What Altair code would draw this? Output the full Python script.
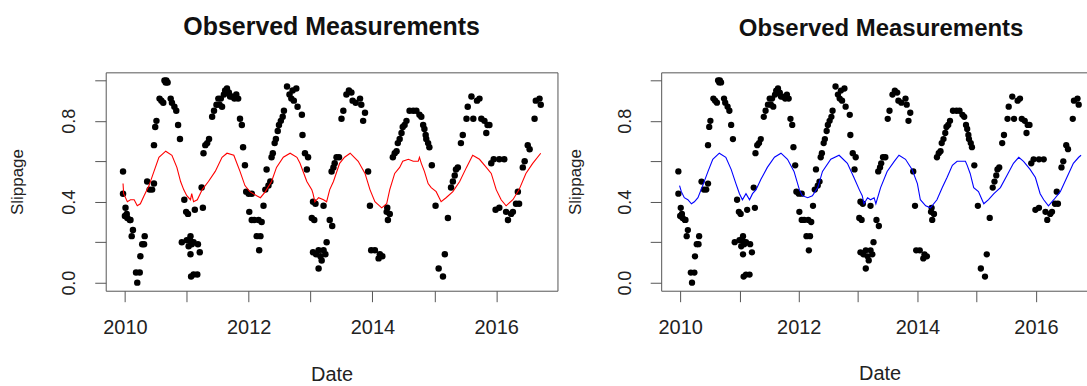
import altair as alt
import pandas as pd

# ---------------- data ----------------
pt_year = [
    2009.97, 2009.97, 2010.01, 2010.00, 2010.04, 2010.08, 2010.09, 2010.03, 2010.13, 2010.11,
    2010.32, 2010.31, 2010.28, 2010.25, 2010.18, 2010.24, 2010.20, 2010.36, 2010.47, 2010.40,
    2010.44, 2010.47, 2010.49, 2010.51, 2010.56, 2010.59, 2010.62, 2010.64, 2010.67, 2010.69,
    2010.66, 2010.74, 2010.76, 2010.80, 2010.83, 2010.86, 2010.89, 2010.96, 2010.99, 2011.02,
    2010.92, 2011.00, 2011.05, 2011.06, 2011.08, 2011.03, 2011.11, 2011.18, 2011.06, 2011.21,
    2011.07, 2011.11, 2011.17, 2011.13, 2011.26, 2011.24, 2011.27, 2011.30, 2011.33, 2011.36,
    2011.41, 2011.44, 2011.48, 2011.51, 2011.55, 2011.60, 2011.62, 2011.65, 2011.68, 2011.70,
    2011.73, 2011.77, 2011.80, 2011.83, 2011.53, 2011.57, 2011.86, 2011.89, 2011.91, 2011.94,
    2011.96, 2012.00, 2012.05, 2012.01, 2012.05, 2012.09, 2012.16, 2012.21, 2012.19, 2012.13,
    2012.17, 2012.24, 2012.27, 2012.32, 2012.35, 2012.29, 2012.37, 2012.39, 2012.42, 2012.44,
    2012.47, 2012.49, 2012.52, 2012.55, 2012.57, 2012.62, 2012.66, 2012.69, 2012.71, 2012.73,
    2012.77, 2012.79, 2012.86, 2012.87, 2012.91, 2012.94, 2012.96, 2013.04, 2013.08, 2013.02,
    2013.06, 2013.04, 2013.09, 2013.13, 2013.16, 2013.21, 2013.24, 2013.18, 2013.13, 2013.21,
    2013.26, 2013.31, 2013.35, 2013.34, 2013.37, 2013.39, 2013.42, 2013.46, 2013.50, 2013.53,
    2013.58, 2013.62, 2013.66, 2013.68, 2013.73, 2013.80, 2013.82, 2013.85, 2013.88, 2013.93,
    2013.96, 2013.98, 2014.04, 2014.12, 2014.16, 2014.10, 2014.23, 2014.25, 2014.28, 2014.24,
    2014.33, 2014.36, 2014.39, 2014.41, 2014.44, 2014.47, 2014.49, 2014.52, 2014.55, 2014.60,
    2014.66, 2014.71, 2014.76, 2014.79, 2014.82, 2014.84, 2014.86, 2014.87, 2014.90, 2014.92,
    2014.96, 2015.02, 2015.07, 2015.14, 2015.17, 2015.22, 2015.27, 2015.30, 2015.33, 2015.35,
    2015.38, 2015.43, 2015.46, 2015.52, 2015.54, 2015.60, 2015.63, 2015.69, 2015.73, 2015.76,
    2015.81, 2015.84, 2015.86, 2015.89, 2015.92, 2015.96, 2016.05, 2016.13, 2015.99, 2016.05,
    2016.16, 2016.19, 2016.24, 2016.27, 2016.32, 2016.37, 2016.35, 2016.43, 2016.46, 2016.51,
    2016.54, 2016.62, 2016.64, 2016.70, 2016.72,
]
pt_value = [
    0.55, 0.44, 0.37, 0.33, 0.32, 0.31, 0.31, 0.34, 0.26, 0.23,
    0.23, 0.19, 0.19, 0.13, 0.05, 0.05, 0.00, 0.50, 0.49, 0.46,
    0.46, 0.68, 0.77, 0.80, 0.91, 0.90, 0.89, 1.00, 1.00, 0.99,
    0.99, 0.91, 0.89, 0.87, 0.85, 0.78, 0.71, 0.41, 0.35, 0.34,
    0.20, 0.21, 0.21, 0.23, 0.19, 0.18, 0.20, 0.19, 0.14, 0.15,
    0.03, 0.04, 0.04, 0.36, 0.37, 0.47, 0.64, 0.68, 0.69, 0.71,
    0.82, 0.85, 0.88, 0.91, 0.91, 0.93, 0.95, 0.96, 0.94, 0.92,
    0.92, 0.91, 0.93, 0.91, 0.88, 0.87, 0.81, 0.78, 0.67, 0.58,
    0.45, 0.44, 0.44, 0.35, 0.31, 0.31, 0.31, 0.30, 0.23, 0.23,
    0.16, 0.38, 0.46, 0.48, 0.50, 0.56, 0.62, 0.64, 0.69, 0.71,
    0.75, 0.78, 0.80, 0.82, 0.85, 0.97, 0.93, 0.91, 0.95, 0.90,
    0.96, 0.87, 0.83, 0.73, 0.64, 0.56, 0.62, 0.40, 0.39, 0.32,
    0.31, 0.15, 0.14, 0.16, 0.13, 0.16, 0.14, 0.11, 0.07, 0.38,
    0.20, 0.31, 0.28, 0.55, 0.57, 0.59, 0.62, 0.62, 0.81, 0.85,
    0.93, 0.95, 0.94, 0.90, 0.89, 0.91, 0.88, 0.80, 0.84, 0.55,
    0.38, 0.16, 0.16, 0.14, 0.13, 0.12, 0.35, 0.31, 0.34, 0.37,
    0.62, 0.64, 0.65, 0.69, 0.71, 0.74, 0.77, 0.78, 0.80, 0.85,
    0.85, 0.85, 0.83, 0.82, 0.78, 0.76, 0.73, 0.71, 0.69, 0.67,
    0.58, 0.38, 0.07, 0.03, 0.14, 0.32, 0.47, 0.50, 0.53, 0.56,
    0.57, 0.69, 0.73, 0.81, 0.87, 0.92, 0.81, 0.90, 0.91, 0.81,
    0.80, 0.74, 0.78, 0.78, 0.59, 0.61, 0.61, 0.61, 0.36, 0.37,
    0.35, 0.31, 0.34, 0.35, 0.39, 0.39, 0.45, 0.57, 0.60, 0.68,
    0.66, 0.81, 0.90, 0.91, 0.88,
]

red_year = [
    2009.97, 2009.98, 2010.04, 2010.09, 2010.15, 2010.20, 2010.25, 2010.31, 2010.39, 2010.47,
    2010.55, 2010.66, 2010.76, 2010.84, 2010.90, 2010.95, 2011.00, 2011.06, 2011.08, 2011.11,
    2011.17, 2011.25, 2011.35, 2011.46, 2011.57, 2011.65, 2011.76, 2011.86, 2011.94, 2012.02,
    2012.13, 2012.19, 2012.27, 2012.37, 2012.45, 2012.56, 2012.67, 2012.78, 2012.83, 2012.94,
    2013.02, 2013.04, 2013.07, 2013.13, 2013.21, 2013.26, 2013.31, 2013.37, 2013.47, 2013.55,
    2013.64, 2013.77, 2013.88, 2013.96, 2014.04, 2014.15, 2014.23, 2014.28, 2014.36, 2014.44,
    2014.49, 2014.58, 2014.66, 2014.74, 2014.76, 2014.79, 2014.84, 2014.90, 2014.95, 2015.03,
    2015.11, 2015.19, 2015.30, 2015.41, 2015.52, 2015.62, 2015.73, 2015.84, 2015.92, 2016.00,
    2016.08, 2016.16, 2016.27, 2016.37, 2016.48, 2016.59, 2016.72,
]
red_value = [
    0.49, 0.44, 0.40, 0.41, 0.41, 0.38, 0.39, 0.43, 0.48, 0.55,
    0.62, 0.65, 0.63, 0.57, 0.50, 0.46, 0.43, 0.41, 0.44, 0.40,
    0.41, 0.46, 0.50, 0.55, 0.62, 0.64, 0.63, 0.55, 0.48, 0.45,
    0.43, 0.42, 0.45, 0.50, 0.57, 0.62, 0.64, 0.62, 0.59, 0.50,
    0.46, 0.44, 0.40, 0.42, 0.41, 0.40, 0.46, 0.50, 0.59, 0.62,
    0.64, 0.60, 0.54, 0.46, 0.40, 0.37, 0.39, 0.46, 0.54, 0.57,
    0.60, 0.61, 0.60, 0.60, 0.62, 0.59, 0.55, 0.49, 0.47, 0.45,
    0.40, 0.42, 0.45, 0.50, 0.57, 0.63, 0.61, 0.57, 0.54, 0.46,
    0.41, 0.38, 0.41, 0.46, 0.54, 0.59, 0.64,
]

blue_year = [
    2009.99, 2010.02, 2010.07, 2010.13, 2010.19, 2010.24, 2010.30, 2010.38, 2010.47, 2010.55,
    2010.66, 2010.77, 2010.86, 2010.94, 2011.00, 2011.05, 2011.11, 2011.17, 2011.22, 2011.28,
    2011.36, 2011.47, 2011.59, 2011.70, 2011.81, 2011.92, 2012.01, 2012.06, 2012.15, 2012.23,
    2012.32, 2012.40, 2012.54, 2012.68, 2012.82, 2012.93, 2013.02, 2013.07, 2013.10, 2013.16,
    2013.21, 2013.27, 2013.30, 2013.38, 2013.49, 2013.61, 2013.69, 2013.80, 2013.91, 2014.00,
    2014.05, 2014.14, 2014.22, 2014.33, 2014.42, 2014.50, 2014.59, 2014.67, 2014.75, 2014.81,
    2014.84, 2014.89, 2014.95, 2015.03, 2015.09, 2015.12, 2015.20, 2015.29, 2015.40, 2015.51,
    2015.62, 2015.71, 2015.79, 2015.90, 2015.99, 2016.07, 2016.13, 2016.21, 2016.30, 2016.41,
    2016.52, 2016.63, 2016.72, 2016.76,
]
blue_value = [
    0.48, 0.45, 0.42, 0.41, 0.39, 0.40, 0.42, 0.48, 0.55, 0.61,
    0.64, 0.62, 0.56, 0.49, 0.44, 0.41, 0.44, 0.41, 0.44, 0.46,
    0.51, 0.57, 0.62, 0.64, 0.61, 0.55, 0.46, 0.43, 0.42, 0.43,
    0.47, 0.55, 0.61, 0.63, 0.59, 0.52, 0.46, 0.43, 0.39, 0.42,
    0.41, 0.42, 0.39, 0.47, 0.55, 0.60, 0.63, 0.61, 0.56, 0.49,
    0.41, 0.38, 0.37, 0.41, 0.47, 0.52, 0.58, 0.60, 0.60, 0.60,
    0.58, 0.54, 0.47, 0.45, 0.41, 0.39, 0.41, 0.44, 0.47, 0.53,
    0.59, 0.62, 0.60, 0.56, 0.52, 0.44, 0.41, 0.38, 0.41, 0.45,
    0.52, 0.59, 0.62, 0.63,
]

x_ticks = [2010, 2011, 2012, 2013, 2014, 2015, 2016]
y_ticks = [0.0, 0.2, 0.4, 0.6, 0.8, 1.0]
chart_title = "Observed Measurements"
x_title = "Date"
y_title = "Slippage"

pts_df = pd.DataFrame({"Date": pt_year, "Slippage": pt_value})
red_df = pd.DataFrame({"Date": red_year, "Slippage": red_value})
blue_df = pd.DataFrame({"Date": blue_year, "Slippage": blue_value})

FONT = "Liberation Sans"
AXC = "#555555"
TXT = "#222222"

Y_LABELS = ("(abs(datum.value) < 0.001 || abs(datum.value - 0.4) < 0.001 || "
            "abs(datum.value - 0.8) < 0.001) ? format(datum.value, '.1f') : ''")
X_LABELS = "(round(datum.value) % 2 == 0) ? format(datum.value, 'd') : ''"


def y_enc(title_x, show_domain):
    return alt.Y(
        "Slippage:Q",
        scale=alt.Scale(domain=[-0.04, 1.04], nice=False, zero=False),
        axis=alt.Axis(
            values=y_ticks, labelExpr=Y_LABELS, labelAngle=270, labelAlign="center",
            labelBaseline="alphabetic", labelFontSize=18, labelPadding=20, tickSize=11,
            domain=show_domain, grid=False, title=y_title, titleAngle=270,
            titleFontSize=17, titleFontWeight="normal", titleX=title_x,
            titleBaseline="alphabetic",
        ),
    )


def x_enc(domain, title_x, title_y, show_domain):
    return alt.X(
        "Date:Q",
        scale=alt.Scale(domain=domain, nice=False, zero=False),
        axis=alt.Axis(
            values=x_ticks, labelExpr=X_LABELS, labelFontSize=20, labelBaseline="alphabetic",
            labelPadding=32, tickSize=11, domain=show_domain, grid=False, title=x_title,
            titleFontSize=20, titleFontWeight="normal", titleBaseline="alphabetic",
            titleX=title_x, titleY=title_y,
        ),
    )


# ---------------- left panel ----------------
L_W, L_H = 453, 219
left_x = x_enc([2009.69, 2016.99], L_W / 2, 90, False)
left_pts = alt.Chart(pts_df).mark_circle(size=42, color="black", opacity=1).encode(
    x=left_x, y=y_enc(-83, False))
left_line = alt.Chart(red_df).mark_line(color="#ff0000", strokeWidth=1.1).encode(
    x=left_x, y=y_enc(-83, False))
left = alt.layer(left_pts, left_line).properties(
    width=L_W, height=L_H,
    view=alt.ViewBackground(stroke=AXC, strokeWidth=1),
    title=alt.Title(chart_title, font=FONT, fontSize=25, fontWeight="bold", anchor="middle",
                    frame="group", offset=12, baseline="alphabetic", color="#111111"),
)

# ---------------- right panel (cut off at the right edge) ----------------
R_W, R_H = 427, 219
right_x = x_enc([2009.68, 2016.86], 219, 89, True)
right_pts = alt.Chart(pts_df).mark_circle(size=40, color="black", opacity=1).encode(
    x=right_x, y=y_enc(-81, True))
right_line = alt.Chart(blue_df).mark_line(color="#0000ff", strokeWidth=1.1).encode(
    x=alt.X("Date:Q", scale=alt.Scale(domain=[2009.68, 2016.86], nice=False, zero=False),
            axis=alt.Axis(orient="top", labels=False, ticks=False, domain=True, grid=False,
                          title="")),
    y=y_enc(-81, True))
right = alt.layer(right_pts, right_line).resolve_axis(x="independent").properties(
    width=R_W, height=R_H,
    view=alt.ViewBackground(stroke="transparent", strokeWidth=0),
    title=alt.Title(chart_title, font=FONT, fontSize=24, fontWeight="bold", anchor="middle",
                    frame="group", offset=12, baseline="alphabetic", color="#111111", dx=7),
)

chart = alt.hconcat(left, right, spacing=8).properties(
    padding={"left": 8, "top": 14, "right": 0, "bottom": 0},
    background="white",
).configure_axis(
    labelFont=FONT, titleFont=FONT, labelColor=TXT, titleColor=TXT,
    tickColor=AXC, domainColor=AXC, tickWidth=1, domainWidth=1,
).configure_view(stroke="transparent")

chart.save("out.html", embed_options={"renderer": "svg", "actions": False})
